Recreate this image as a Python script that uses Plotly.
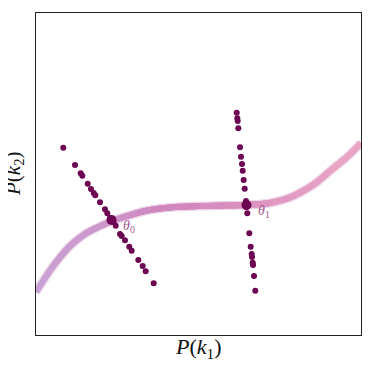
import plotly.graph_objects as go

# curve (x, y in plot units, frame is 325 x 322)
curve_x = [0, 16.7, 33.3, 50, 66.7, 76.7, 100, 114, 139, 164, 189, 210, 234, 254, 277, 294, 311, 325]
curve_y = [43, 68.3, 88.3, 101.7, 110, 114.3, 121.7, 125, 128, 129, 129.5, 130, 132, 137.5, 150, 164, 178, 192]

# samples along the two directions
t0_x = [27.3, 39, 44.7, 46.3, 51.7, 55, 57.7, 59.3, 64, 69, 71.3, 74, 75, 76, 77.3, 79.7, 84, 85.7, 89,
        93.3, 95.7, 102.3, 106.7, 109.7, 117.7]
t0_y = [187.3, 170, 161.7, 159.3, 151.3, 146, 142, 139.7, 132.7, 125.7, 121.7, 117, 115.7, 114.5, 113.3,
        109.3, 101, 99, 94.7, 88.3, 84.3, 75, 69, 63.7, 51.7]
t1_x = [200.7, 201.3, 201.7, 202.3, 204, 205, 206, 206.7, 207.7, 208.7, 210, 210.3, 210.7, 210.3, 211.3,
        213.3, 214.7, 215.7, 216, 216.7, 217, 218, 219.3]
t1_y = [222.3, 216.7, 214, 206.7, 187.7, 178.3, 171, 164.3, 155, 146.3, 134, 132, 130, 128, 121.7,
        101.7, 88.3, 81, 78, 72.3, 70, 59, 44.3]

theta_x = [75.5, 210.5]
theta_y = [115, 130]
theta_lbl = ["<i>θ</i><sub>0</sub>", "<i>θ</i><sub>1</sub>"]

DOT = "#6c0552"
STOPS = [(0.0, (200, 166, 216)), (0.5, (209, 132, 188)), (1.0, (234, 165, 196))]


def _mix(f):
    for (a, ca), (b, cb) in zip(STOPS, STOPS[1:]):
        if f <= b:
            u = (f - a) / (b - a)
            return "rgb(%d,%d,%d)" % tuple(round(p + (q - p) * u) for p, q in zip(ca, cb))
    return "rgb(%d,%d,%d)" % STOPS[-1][1]


fig = go.Figure()
# soft halo under the band
fig.add_scatter(x=curve_x, y=curve_y, mode="lines", line=dict(color="rgba(215,165,205,0.45)", width=9,
                shape="spline"), hoverinfo="skip")
n = len(curve_x)
for i in range(n - 1):
    lo, hi = max(i - 1, 0), min(i + 3, n)
    f = (curve_x[i] + curve_x[i + 1]) / 2 / curve_x[-1]
    fig.add_scatter(x=curve_x[lo:hi], y=curve_y[lo:hi], mode="lines",
                    line=dict(color=_mix(f), width=6, shape="spline"), hoverinfo="skip")

for xs, ys in [(t0_x, t0_y), (t1_x, t1_y)]:
    fig.add_scatter(x=xs, y=ys, mode="markers", marker=dict(color=DOT, size=6, line_width=0))
fig.add_scatter(x=theta_x, y=theta_y, mode="markers", marker=dict(color=DOT, size=10, line_width=0))

for x, y, s in zip(theta_x, theta_y, theta_lbl):
    fig.add_annotation(x=x, y=y, text=s, showarrow=False, xanchor="left", yanchor="middle",
                       xshift=9, yshift=-6, font=dict(family="Liberation Serif", size=14, color="#a2558f"))

serif = dict(family="Liberation Serif", size=22, color="#111")
fig.add_annotation(x=0.5, y=0, xref="paper", yref="paper", text="<i>P</i>(<i>k</i><sub>1</sub>)",
                   showarrow=False, yanchor="top", yshift=3, font=serif)
fig.add_annotation(x=0, y=0.5, xref="paper", yref="paper", text="<i>P</i>(<i>k</i><sub>2</sub>)",
                   showarrow=False, xanchor="right", xshift=-8, textangle=-90,
                   font=dict(serif, size=21), borderpad=0)

ax = dict(showticklabels=False, ticks="", showgrid=False, zeroline=False, showline=True, mirror=True,
          linecolor="#222", linewidth=1.2, fixedrange=True)
# page body has an 8px margin, so the figure is 16px smaller and margins shifted to match
fig.update_layout(width=358, height=356, margin=dict(l=28, r=5, t=5, b=29), showlegend=False,
                  plot_bgcolor="white", paper_bgcolor="white",
                  xaxis=dict(range=[0, 325], **ax), yaxis=dict(range=[0, 322], **ax))
fig.write_html("out.html")
